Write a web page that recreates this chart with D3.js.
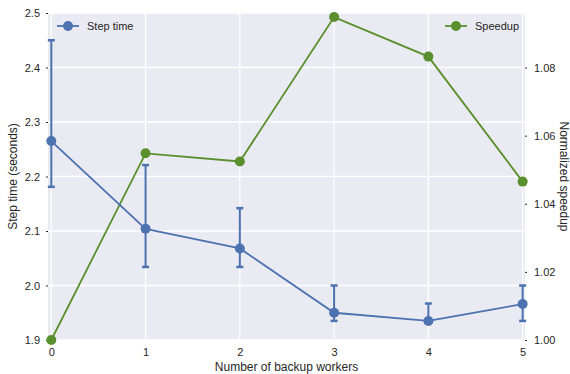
<!DOCTYPE html>
<html>
<head>
<meta charset="utf-8">
<script src="https://cdn.jsdelivr.net/npm/d3@7"></script>
<style>
    body { margin: 0; background: #fff; }
    text { font-family: "Liberation Sans", Arial, sans-serif; fill: #262626; }
</style>
</head>
<body>
<svg id="chart" width="570" height="374"></svg>
<script>
const workers = [0, 1, 2, 3, 4, 5];
const stepTime = [2.265, 2.104, 2.068, 1.950, 1.935, 1.966];
const stepLow = [2.181, 2.034, 2.034, 1.935, 1.935, 1.935];
const stepHigh = [2.450, 2.221, 2.142, 2.000, 1.967, 2.000];
const speedup = [1.000, 1.0548, 1.0524, 1.0948, 1.0832, 1.0465];
const leftTicks = [1.9, 2.0, 2.1, 2.2, 2.3, 2.4, 2.5];
const rightTicks = [1.00, 1.02, 1.04, 1.06, 1.08];

const blue = "#4c72b0";
const green = "#5a8f2d";

const margin = { top: 13, right: 45, bottom: 34, left: 48 };
const width = 570 - margin.left - margin.right;
const height = 374 - margin.top - margin.bottom;

const svg = d3.select("#chart");
const g = svg.append("g").attr("transform", `translate(${margin.left},${margin.top})`);

const x = d3.scaleLinear().domain([-0.035, 5.025]).range([0, width]);
const yLeft = d3.scaleLinear().domain([1.9, 2.5]).range([height, 0]);
const yRight = d3.scaleLinear().domain([1.0, 1.096]).range([height, 0]);

g.append("rect")
    .attr("width", width)
    .attr("height", height)
    .attr("fill", "#eaeaf2");

// grid lines
g.append("g")
    .selectAll("line")
    .data(workers)
    .join("line")
    .attr("x1", d => x(d))
    .attr("x2", d => x(d))
    .attr("y1", 0)
    .attr("y2", height)
    .attr("stroke", "#fff")
    .attr("stroke-width", 1.3);

g.append("g")
    .selectAll("line")
    .data(leftTicks)
    .join("line")
    .attr("x1", 0)
    .attr("x2", width)
    .attr("y1", d => yLeft(d))
    .attr("y2", d => yLeft(d))
    .attr("stroke", "#fff")
    .attr("stroke-width", 1.3);

// axes
const xAxis = g.append("g")
    .attr("transform", `translate(0,${height})`)
    .call(d3.axisBottom(x).tickValues(workers).tickFormat(d3.format("d")).tickSize(3).tickPadding(5));

const leftAxis = g.append("g")
    .call(d3.axisLeft(yLeft).tickValues(leftTicks).tickFormat(d3.format(".1f")).tickSize(2).tickPadding(6));

const rightAxis = g.append("g")
    .attr("transform", `translate(${width},0)`)
    .call(d3.axisRight(yRight).tickValues(rightTicks).tickFormat(d3.format(".2f")).tickSize(2).tickPadding(7));

for (const axis of [xAxis, leftAxis, rightAxis]) {
    axis.select(".domain").remove();
    axis.selectAll(".tick line").attr("stroke", "#262626");
    axis.selectAll("text").attr("font-size", 11).style("font-family", "Liberation Sans, Arial, sans-serif").attr("fill", "#262626");
}
xAxis.selectAll(".tick line").attr("stroke", "#fff");

// axis labels
svg.append("text")
    .attr("x", margin.left + width / 2)
    .attr("y", 371)
    .attr("text-anchor", "middle")
    .attr("font-size", 12)
    .text("Number of backup workers");

svg.append("text")
    .attr("transform", `translate(17,${margin.top + height / 2}) rotate(-90)`)
    .attr("text-anchor", "middle")
    .attr("font-size", 12)
    .text("Step time (seconds)");

svg.append("text")
    .attr("transform", `translate(560,${margin.top + height / 2}) rotate(90)`)
    .attr("text-anchor", "middle")
    .attr("font-size", 12)
    .text("Normalized speedup");

// speedup line
const speedLine = d3.line().x((d, i) => x(workers[i])).y(d => yRight(d));
g.append("path")
    .datum(speedup)
    .attr("d", speedLine)
    .attr("fill", "none")
    .attr("stroke", green)
    .attr("stroke-width", 1.8);

g.append("g")
    .selectAll("circle")
    .data(speedup)
    .join("circle")
    .attr("cx", (d, i) => x(workers[i]))
    .attr("cy", d => yRight(d))
    .attr("r", 5)
    .attr("fill", green);

// step time with error bars
const stepLine = d3.line().x((d, i) => x(workers[i])).y(d => yLeft(d));
g.append("path")
    .datum(stepTime)
    .attr("d", stepLine)
    .attr("fill", "none")
    .attr("stroke", blue)
    .attr("stroke-width", 1.8);

const bars = g.append("g")
    .selectAll("g")
    .data(workers)
    .join("g")
    .attr("stroke", blue);

bars.append("line")
    .attr("x1", d => x(d))
    .attr("x2", d => x(d))
    .attr("y1", (d, i) => yLeft(stepLow[i]))
    .attr("y2", (d, i) => yLeft(stepHigh[i]))
    .attr("stroke-width", 2);

bars.append("line")
    .attr("x1", d => x(d) - 3.5)
    .attr("x2", d => x(d) + 3.5)
    .attr("y1", (d, i) => yLeft(stepLow[i]))
    .attr("y2", (d, i) => yLeft(stepLow[i]))
    .attr("stroke-width", 2.5);

bars.append("line")
    .attr("x1", d => x(d) - 3.5)
    .attr("x2", d => x(d) + 3.5)
    .attr("y1", (d, i) => yLeft(stepHigh[i]))
    .attr("y2", (d, i) => yLeft(stepHigh[i]))
    .attr("stroke-width", 2.5);

g.append("g")
    .selectAll("circle")
    .data(stepTime)
    .join("circle")
    .attr("cx", (d, i) => x(workers[i]))
    .attr("cy", d => yLeft(d))
    .attr("r", 5)
    .attr("fill", blue);

// legends
const legLeft = g.append("g").attr("transform", "translate(9,13)");
legLeft.append("line").attr("x1", 0).attr("x2", 22).attr("stroke", blue).attr("stroke-width", 1.8);
legLeft.append("line").attr("x1", 11).attr("x2", 11).attr("y1", -4.5).attr("y2", 4.5).attr("stroke", blue).attr("stroke-width", 2);
legLeft.append("circle").attr("cx", 11).attr("r", 5).attr("fill", blue);
legLeft.append("text").attr("x", 30).attr("y", 4).attr("font-size", 11).text("Step time");

const legRight = g.append("g").attr("transform", `translate(${width - 80},13)`);
legRight.append("line").attr("x1", 0).attr("x2", 22).attr("stroke", green).attr("stroke-width", 1.8);
legRight.append("circle").attr("cx", 11).attr("r", 5).attr("fill", green);
legRight.append("text").attr("x", 30).attr("y", 4).attr("font-size", 11).text("Speedup");
</script>
</body>
</html>
